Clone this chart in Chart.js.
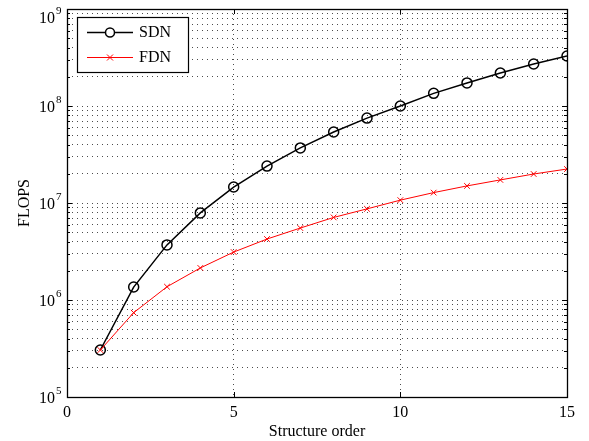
<!DOCTYPE html>
<html>
<head>
<meta charset="utf-8">
<script src="https://cdn.jsdelivr.net/npm/chart.js@4"></script>
<style>
html,body{margin:0;padding:0;background:#fff;}
#wrap{width:589px;height:441px;}
</style>
</head>
<body>
<div id="wrap"><canvas id="c" width="589" height="441"></canvas></div>
<script>
// ---- data ----
const orders = [1,2,3,4,5,6,7,8,9,10,11,12,13,14,15];
const sdnFlops = [3.05e5,1.36e6,3.7e6,7.9e6,1.46e7,2.4e7,3.7e7,5.4e7,7.5e7,1.0e8,1.35e8,1.73e8,2.19e8,2.71e8,3.28e8];
const fdnFlops = [3.05e5,7.4e5,1.37e6,2.14e6,3.12e6,4.25e6,5.52e6,7.1e6,8.7e6,1.07e7,1.28e7,1.5e7,1.73e7,1.99e7,2.24e7];
const xTickLabels = ['0','5','10','15'];
const yTickBase = '10';
const yTickExps = ['5','6','7','8','9'];
const seriesNames = ['SDN','FDN'];
const xTitle = 'Structure order';
const yTitle = 'FLOPS';

const FONT = "'Liberation Serif', 'Times New Roman', serif";

const frameTicks = {
  id: 'frameTicks',
  afterDraw(chart) {
    const ctx = chart.ctx, a = chart.chartArea;
    const xs = chart.scales.x, ys = chart.scales.y;
    ctx.save();
    ctx.strokeStyle = '#000';
    ctx.lineWidth = 1;
    ctx.setLineDash([]);
    ctx.beginPath();
    xs.ticks.forEach(t => {
      const px = Math.round(xs.getPixelForValue(t.value)) + 0.5;
      ctx.moveTo(px, a.bottom); ctx.lineTo(px, a.bottom - 5);
      ctx.moveTo(px, a.top); ctx.lineTo(px, a.top + 5);
    });
    ys.ticks.forEach(t => {
      const py = Math.round(ys.getPixelForValue(t.value)) + 0.5;
      const major = Math.abs(Math.log10(t.value) - Math.round(Math.log10(t.value))) < 1e-9;
      const len = major ? 5 : 3;
      ctx.moveTo(a.left, py); ctx.lineTo(a.left + len, py);
      ctx.moveTo(a.right, py); ctx.lineTo(a.right - len, py);
    });
    ctx.stroke();
    ctx.lineWidth = 1.3;
    ctx.strokeRect(Math.round(a.left)+0.5, Math.round(a.top)+0.5, Math.round(a.right-a.left), Math.round(a.bottom-a.top));

    // y tick labels with raised exponents
    ctx.fillStyle = '#000';
    ctx.textBaseline = 'alphabetic';
    yTickExps.forEach((ex) => {
      let py = ys.getPixelForValue(Math.pow(10, Number(ex)));
      if (py - 10 < 0) py = py + 8;
      ctx.font = "16px " + FONT;
      ctx.textAlign = 'right';
      ctx.fillText(yTickBase, 55, py + 6);
      ctx.font = "11px " + FONT;
      ctx.textAlign = 'left';
      ctx.fillText(ex, 56, py - 3);
    });
    ctx.restore();
  }
};

const boxLegend = {
  id: 'boxLegend',
  afterDraw(chart) {
    const ctx = chart.ctx;
    const bx = 77.5, by = 17.5, bw = 111, bh = 55;
    ctx.save();
    ctx.fillStyle = '#fff';
    ctx.fillRect(bx, by, bw, bh);
    ctx.strokeStyle = '#000';
    ctx.lineWidth = 1.2;
    ctx.strokeRect(bx, by, bw, bh);
    const rows = [
      {y: 32, color: '#000', lw: 1.5, marker: 'circle'},
      {y: 57, color: '#ff0000', lw: 1, marker: 'x'}
    ];
    rows.forEach((r, i) => {
      ctx.strokeStyle = r.color;
      ctx.lineWidth = r.lw;
      ctx.beginPath();
      ctx.moveTo(87, r.y + 0.5); ctx.lineTo(133, r.y + 0.5);
      ctx.stroke();
      ctx.beginPath();
      if (r.marker === 'circle') {
        ctx.fillStyle = '#fff';
        ctx.arc(110, r.y + 0.5, 4.5, 0, Math.PI * 2);
        ctx.fill();
        ctx.stroke();
      } else {
        ctx.moveTo(107, r.y - 2.5); ctx.lineTo(113, r.y + 3.5);
        ctx.moveTo(113, r.y - 2.5); ctx.lineTo(107, r.y + 3.5);
        ctx.stroke();
      }
      ctx.fillStyle = '#000';
      ctx.font = "16px " + FONT;
      ctx.textBaseline = 'middle';
      ctx.textAlign = 'left';
      ctx.fillText(seriesNames[i], 139, r.y + 1);
    });
    ctx.restore();
  }
};

const yGridTicks = [];
for (let e = 5; e <= 9; e++) {
  for (let m = 1; m <= 9; m++) {
    if (e === 9 && m > 1) break;
    yGridTicks.push(m * Math.pow(10, e));
  }
}

new Chart(document.getElementById('c'), {
  type: 'line',
  data: {
    labels: orders,
    datasets: [
      {
        label: seriesNames[0],
        data: orders.map((x, i) => ({x, y: sdnFlops[i]})),
        borderColor: '#000',
        backgroundColor: 'rgba(255,255,255,0)',
        borderWidth: 1.5,
        pointStyle: 'circle',
        pointRadius: 5,
        pointBorderWidth: 1.5,
        pointBorderColor: '#000',
        pointBackgroundColor: 'rgba(255,255,255,0)',
        tension: 0,
        order: 2
      },
      {
        label: seriesNames[1],
        data: orders.map((x, i) => ({x, y: fdnFlops[i]})),
        borderColor: '#ff0000',
        backgroundColor: '#ff0000',
        borderWidth: 1,
        pointStyle: 'crossRot',
        pointRadius: 4,
        pointBorderWidth: 1,
        pointBorderColor: '#ff0000',
        tension: 0,
        order: 1
      }
    ]
  },
  options: {
    responsive: false,
    animation: false,
    devicePixelRatio: 1,
    layout: {padding: {top: 9, right: 22, left: 0, bottom: 0}},
    plugins: {legend: {display: false}, tooltip: {enabled: false}},
    scales: {
      x: {
        type: 'linear',
        min: 0, max: 15,
        afterFit(s) { s.height = 44; },
        afterBuildTicks(s) { s.ticks = xTickLabels.map(v => ({value: Number(v)})); },
        ticks: {
          color: '#000',
          font: {family: FONT, size: 16},
          padding: 6,
          maxRotation: 0,
          callback: (v) => xTickLabels.find(l => Number(l) === v) ?? ''
        },
        grid: {color: 'rgba(0,0,0,0.7)', lineWidth: 1, drawTicks: false},
        border: {display: false, dash: [1, 4]},
        title: {display: true, text: xTitle, color: '#000', font: {family: FONT, size: 16}, padding: {top: 0, bottom: 0}}
      },
      y: {
        type: 'logarithmic',
        min: 1e5, max: 1e9,
        afterFit(s) { s.width = 67; },
        afterBuildTicks(s) { s.ticks = yGridTicks.map(v => ({value: v})); },
        ticks: {display: false, autoSkip: false},
        grid: {color: 'rgba(0,0,0,0.7)', lineWidth: 1, drawTicks: false},
        border: {display: false, dash: [1, 4]},
        title: {display: true, text: yTitle, color: '#000', font: {family: FONT, size: 16}, padding: {top: 15, bottom: 0}}
      }
    }
  },
  plugins: [frameTicks, boxLegend]
});
</script>
</body>
</html>
